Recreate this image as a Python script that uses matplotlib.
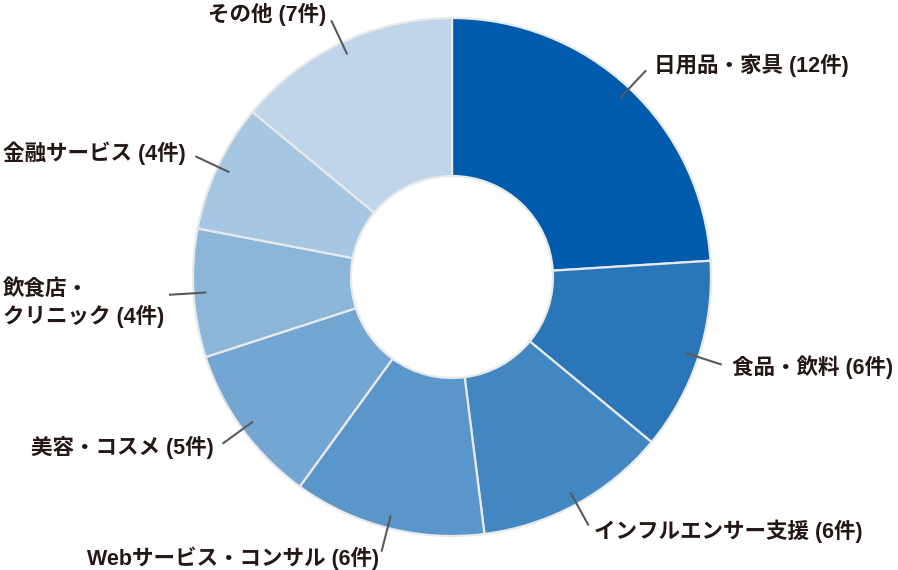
import numpy as np
import matplotlib
matplotlib.use("Agg")
import matplotlib.pyplot as plt

plt.rcParams['font.family'] = ['Liberation Sans', 'Noto Sans CJK JP', 'DejaVu Sans']

categories = ["日用品・家具", "食品・飲料", "インフルエンサー支援", "Webサービス・コンサル",
              "美容・コスメ", "飲食店・\nクリニック", "金融サービス", "その他"]
counts = [12, 6, 6, 6, 5, 4, 4, 7]
colors = ["#005BAC", "#2A76B9", "#4287C2", "#5A96C9", "#74A6D3", "#8CB5DA", "#A6C7E3", "#BED5EA"]

W, H = 898, 570
cx, cy, R = 452, 277, 259  # pixel centre and radius
fig = plt.figure(figsize=(W / 100, H / 100), dpi=100)
ax = fig.add_axes([0, 0, 1, 1])

wedges, _ = ax.pie(counts, colors=colors, startangle=90, counterclock=False,
                   radius=1.0,
                   wedgeprops=dict(width=1 - 101 / 259, edgecolor='#e9e9e9', linewidth=1.6))
ax.set_xlim(-cx / R, (W - cx) / R)
ax.set_ylim(-(H - cy) / R, cy / R)
ax.set_aspect('equal')
ax.axis('off')

px = 1.0 / R
for w, cat, n in zip(wedges, categories, counts):
    a = np.deg2rad((w.theta1 + w.theta2) / 2)
    c, s = np.cos(a), np.sin(a)
    r1, r2 = 0.95, 1.095
    ax.plot([r1 * c, r2 * c], [r1 * s, r2 * s], color='#5a5a5a', lw=1.5,
            solid_capstyle='butt')
    sgn = 1 if c >= 0 else -1
    tx = r2 * c + 11 * c * px
    ty = r2 * s + s * 7 * px
    label = f"{cat} ({n}件)"
    if "\n" in cat:
        ax.text(3 / R - cx / R, ty - 8 * px, label, ha='left', va='center', fontsize=15.5,
                fontweight='bold', color='#231815', linespacing=1.3)
    else:
        ax.text(tx, ty, label, ha='left' if sgn > 0 else 'right', va='center',
                fontsize=15.5, fontweight='bold', color='#231815')

fig.savefig("out.png", dpi=100)
